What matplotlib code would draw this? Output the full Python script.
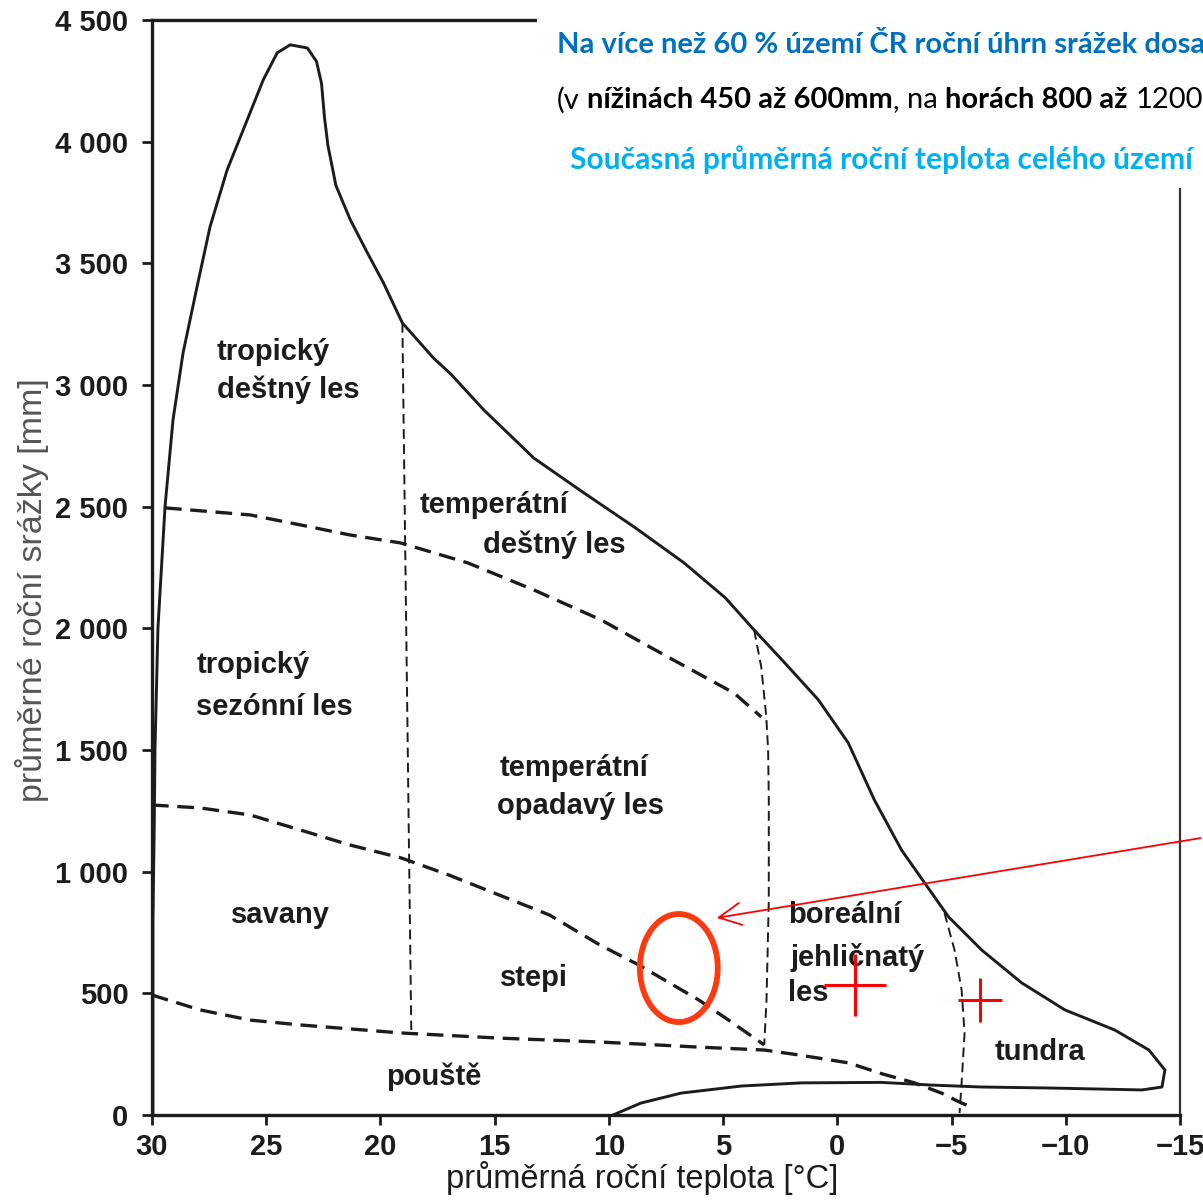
import matplotlib
matplotlib.use("Agg")
import matplotlib.pyplot as plt
from matplotlib.patches import Ellipse, Rectangle

# vnější hranice (teplota °C, srážky mm)
outer_t = [29.96, 29.96, 29.9, 29.87, 29.74, 29.43, 29.08, 28.64, 28.03, 27.46, 26.71,
           25.83, 25.13, 24.52, 23.95, 23.2, 22.8, 22.58, 22.45, 22.3, 21.95, 21.32,
           20.57, 19.87, 19.04, 17.68, 16.93, 15.48, 13.29, 11.1, 8.9, 6.71, 4.9, 3.64,
           2.32, 0.83, -0.48, -1.62, -2.81, -3.82, -4.87, -6.32, -8.07, -9.96, -12.15,
           -13.64, -14.34, -14.21, -13.33, -9.25, -6.32, -4.12, -1.93, 1.58, 4.21, 6.84,
           8.6, 9.82]
outer_p = [0, 800, 1200, 1500, 2000, 2500, 2857, 3132, 3403, 3650, 3884,
           4090, 4254, 4365, 4398, 4385, 4330, 4240, 4100, 3985, 3820, 3679,
           3543, 3420, 3255, 3111, 3046, 2898, 2700, 2557, 2417, 2269, 2125, 1993,
           1860, 1706, 1529, 1295, 1089, 954, 814, 678, 543, 432, 349,
           267, 185, 115, 103, 111, 115, 123, 134, 132, 119, 90,
           49, 0]

# hranice mezi biomy (čárkovaně)
rain_t = [29.43, 25.7, 23.5, 21.35, 19.12, 16.18, 13.29, 10.35, 7.41, 4.52, 3.33]
rain_p = [2495, 2466, 2425, 2384, 2351, 2269, 2158, 2035, 1882, 1734, 1636]

seas_t = [30, 27.9, 25.7, 23.5, 21.35, 19.08, 17.0, 14.8, 12.6, 10.4, 8.7, 6.07, 4.76, 3.2]
seas_p = [1274, 1262, 1233, 1171, 1110, 1056, 986, 904, 822, 699, 617, 473, 390, 288]

desert_t = [30, 27.9, 25.7, 23.5, 19.08, 14.8, 10.4, 6.07, 3.2, 1.7, -0.5, -1.93, -3.38,
            -4.56, -5.44, -5.88]
desert_p = [493, 432, 390, 370, 337, 316, 300, 279, 267, 247, 214, 170, 132,
            90, 49, 33]

trop_t = [19.04, 18.65]
trop_p = [3255, 349]

boreal_t = [3.64, 3.33, 3.11, 3.03, 3.0, 3.0, 3.1, 3.2]
boreal_p = [1993, 1841, 1636, 1500, 1295, 884, 473, 288]

tundra_t = [-4.69, -5.13, -5.44, -5.57, -5.44, -5.35]
tundra_p = [830, 678, 514, 337, 132, 8]

biome_names = ["tropický", "deštný les", "temperátní", "deštný les", "tropický",
               "sezónní les", "temperátní", "opadavý les", "savany", "stepi",
               "boreální", "jehličnatý", "les", "tundra", "pouště"]
biome_t = [27.16, 27.16, 18.3, 15.5, 28.03, 28.08, 14.8, 14.9, 26.55, 14.76,
           2.14, 2.05, 2.14, -6.9, 19.74]
biome_p = [3136, 2980, 2507, 2343, 1850, 1677, 1426, 1270, 822, 563,
           822, 649, 501, 259, 156]

yticks = [0, 500, 1000, 1500, 2000, 2500, 3000, 3500, 4000, 4500]
ylabels = ["0", "500", "1 000", "1 500", "2 000", "2 500", "3 000", "3 500", "4 000", "4 500"]
xticks = [30, 25, 20, 15, 10, 5, 0, -5, -10, -15]
xlabels = ["30", "25", "20", "15", "10", "5", "0", "\u22125", "\u221210", "\u221215"]

# ČR – vyznačené body
cz_t = [-0.79, -6.24]
cz_p = [534, 473]
cz_size = [44, 32]

W, H = 1203, 1202
fig = plt.figure(figsize=(W / 100, H / 100), dpi=100)
ax = fig.add_axes([152 / W, 1 - 1115 / H, (1180 - 152) / W, (1115 - 20) / H])
ink = "#1c1c1c"
font = "Liberation Sans"

ax.plot(outer_t, outer_p, color=ink, lw=2.1, solid_joinstyle="round")
for t, p in [(rain_t, rain_p), (seas_t, seas_p), (desert_t, desert_p)]:
    ax.plot(t, p, color=ink, lw=2.4, dashes=(5, 2.6))
for t, p in [(trop_t, trop_p), (boreal_t, boreal_p), (tundra_t, tundra_p)]:
    ax.plot(t, p, color=ink, lw=1.4, dashes=(5, 2.8))

for name, t, p in zip(biome_names, biome_t, biome_p):
    ax.text(t, p, name, ha="left", va="center", fontsize=21, family=font,
            color=ink, fontweight="bold")

ax.set_xlim(30, -15)
ax.set_ylim(0, 4500)
ax.set_xticks(xticks)
ax.set_xticklabels(xlabels)
ax.set_yticks(yticks)
ax.set_yticklabels(ylabels)
ax.tick_params(length=7, width=2, colors=ink, labelsize=21, pad=6)
ax.tick_params(axis="y", pad=10)
for lab in ax.get_xticklabels() + ax.get_yticklabels():
    lab.set_family(font)
    lab.set_fontweight("bold")
for s in ["left", "bottom", "top"]:
    ax.spines[s].set_linewidth(2.4)
    ax.spines[s].set_color(ink)
ax.spines["right"].set_linewidth(1.6)
ax.spines["right"].set_color("#333333")

fig.text(32 / W, 1 - 590 / H, "průměrné roční srážky [mm]", rotation=90,
         ha="center", va="center", fontsize=24.5, family=font, color="#555555")
fig.text(642 / W, 1 - 1178 / H, "průměrná roční teplota [°C]",
         ha="center", va="center", fontsize=23.5, family=font, color=ink)

# červené značky
ax.add_patch(Ellipse((6.94, 604), 3.41, 444, fill=False, ec="#ff3a10", lw=4.2, zorder=6))
for t, p, s in zip(cz_t, cz_p, cz_size):
    ax.plot(t, p, marker="+", ms=s, mew=2.2, color="red", zorder=6)
ax.annotate("", xy=(5.28, 810), xytext=(-15.9, 1138), annotation_clip=False,
            arrowprops=dict(arrowstyle="->", color="red", lw=1.3, mutation_scale=40,
                            shrinkA=0, shrinkB=0), zorder=6)

# bílé pole s textem
fig.add_artist(Rectangle((537 / W, 1 - 188 / H), 1, 1, transform=fig.transFigure,
                         facecolor="white", edgecolor="none", zorder=5))
tfont = "Lato"
tsize = 21
fig.text(557 / W, 1 - 45 / H, "Na více než 60 % území ČR roční úhrn srážek dosa",
         ha="left", va="center", fontsize=tsize, family=tfont, fontweight="bold",
         color="#0070c0", zorder=7)
fig.text(570 / W, 1 - 160 / H, "Současná průměrná roční teplota celého území",
         ha="left", va="center", fontsize=21.6, family=tfont, fontweight="bold",
         color="#00b0f0", zorder=7)

# druhý řádek: střídání normálního a tučného písma
pieces = ["(v", "nížinách 450 až 600mm", ",", "na", "horách 800 až", "1200"]
weights = ["normal", "bold", "normal", "normal", "bold", "normal"]
gaps = [True, False, True, True, True, False]
renderer = fig.canvas.get_renderer()
probe = fig.text(0, 0, "n n", fontsize=tsize, family=tfont)
w1 = probe.get_window_extent(renderer).width
probe.set_text("nn")
space = w1 - probe.get_window_extent(renderer).width
probe.remove()
x = 557
for txt, wt, gap in zip(pieces, weights, gaps):
    t = fig.text(x / W, 1 - 100 / H, txt, ha="left", va="center", fontsize=tsize,
                 family=tfont, fontweight=wt, color="black", zorder=7)
    x = t.get_window_extent(renderer).x1 + (space if gap else 0)

fig.savefig("out.png", dpi=100)
